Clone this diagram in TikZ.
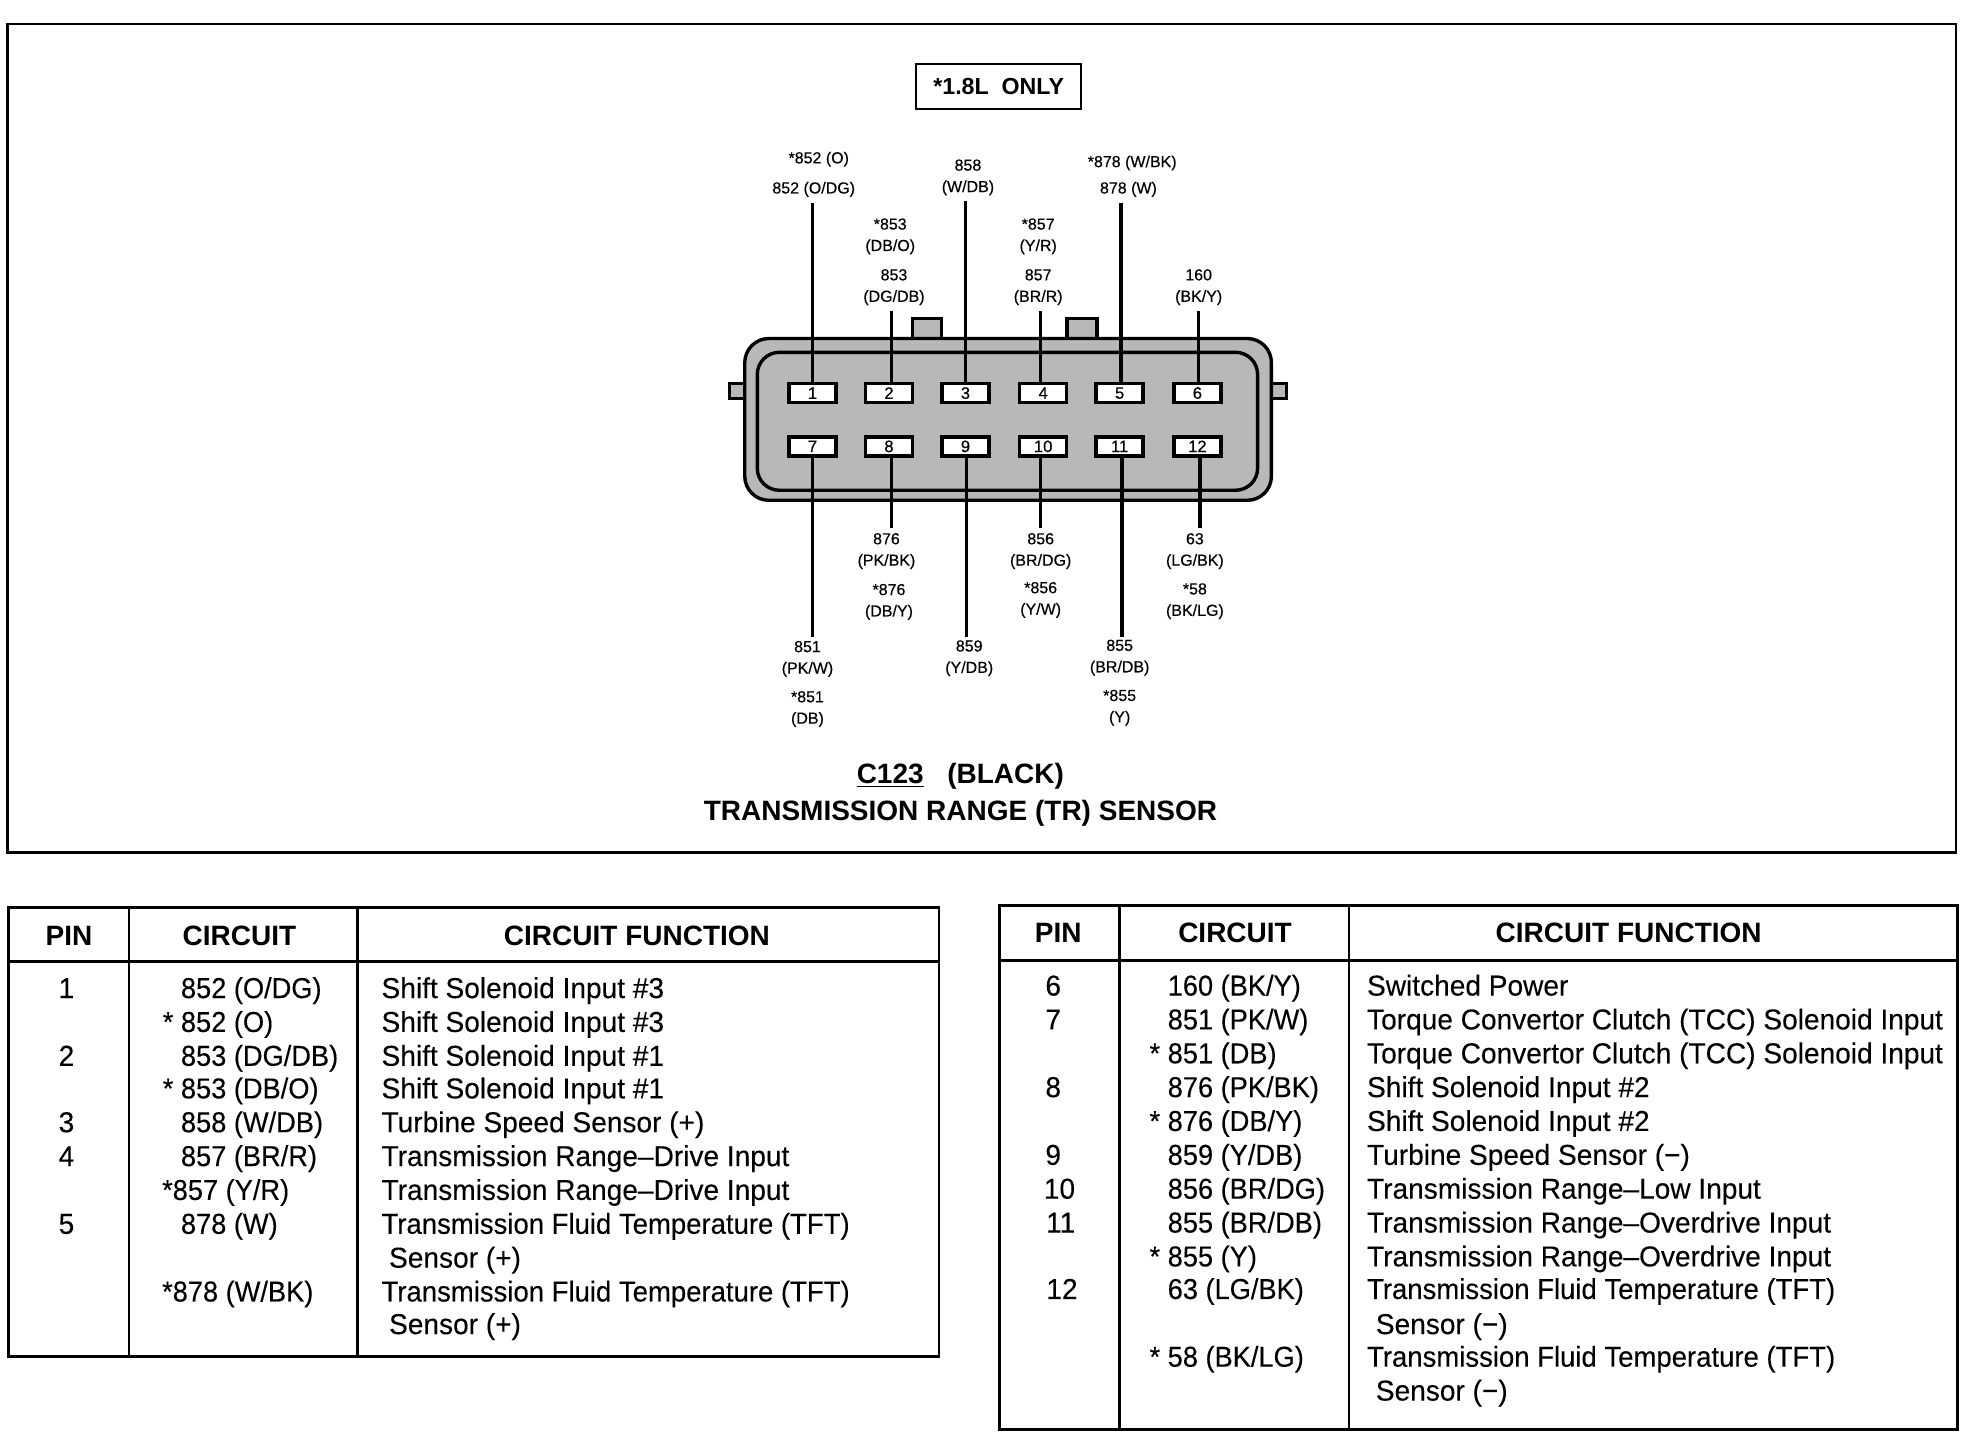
\documentclass[tikz,border=0pt]{standalone}
\usepackage{fontspec}
\setmainfont{Liberation Sans}
\newfontfamily\funcfont[FakeStretch=0.975,FakeBold=0.15]{Liberation Sans}
\newfontfamily\tftfont[FakeStretch=0.955,FakeBold=0.15]{Liberation Sans}
\newfontfamily\circfont[FakeStretch=0.945,FakeBold=0.15]{Liberation Sans}
\newfontfamily\smallfont[FakeBold=0.35]{Liberation Sans}
\usetikzlibrary{calc}

\tikzset{
  wire/.style={line width=1.7pt},
  frameline/.style={line width=1.3pt},
  bodyfill/.style={fill=black!28},
  pinbox/.style={draw,line width=1.8pt,fill=white,rectangle,inner sep=0pt,minimum width=23.5pt,minimum height=9.5pt,font=\smallfont\fontsize{8.3}{9}\selectfont},
  wirelabel/.style={inner sep=0pt,align=center,font=\smallfont\fontsize{8}{10.7}\selectfont},
  headtext/.style={inner sep=0pt,font=\fontsize{14}{16}\bfseries\selectfont},
  titletext/.style={inner sep=0pt,font=\fontsize{14}{16}\bfseries\selectfont},
  celltext/.style={inner sep=0pt,anchor=base west,font=\fontsize{14.4}{17}\selectfont},
  pintext/.style={inner sep=0pt,anchor=base,font=\fontsize{14.4}{17}\selectfont},
}
% one row of a table: name, y, pin, pin x, circuit x, circuit, function x, function
\newcommand{\tabrow}[8]{%
  \node[pintext] (p#1) at (#4,#2+7) {\funcfont #3};
  \node[celltext] (c#1) at (#5,#2+7) {\circfont #6};
  \node[celltext] (f#1) at (#7,#2+7) {\funcfont #8};
}

\begin{document}
\begin{tikzpicture}[x=0.6269pt,y=-0.6269pt]
  \useasboundingbox (0,0) rectangle (1568,1148.6);

  % outer frame and note
  \draw[frameline] (6,19) rectangle (1560,680);
  \node[draw,line width=1.2pt,minimum width=82.5pt,minimum height=22.5pt,inner sep=0pt,font=\fontsize{11.6}{13}\bfseries\selectfont] (note) at (796.5,69) {*1.8L\; ONLY};

  % connector body
  \draw[wire,bodyfill] (728,272) -- (728,254) -- (751,254) -- (751,272);
  \draw[wire,bodyfill] (851,272) -- (851,254) -- (875,254) -- (875,272);
  \draw[wire,bodyfill] (582,306) rectangle (596,318);
  \draw[wire,bodyfill] (1012,306) rectangle (1026,318);
  \draw[wire,bodyfill,rounded corners=12pt] (594,270) rectangle (1014,399);
  \draw[wire,rounded corners=11pt] (604,281) rectangle (1003,391);

  % pins
  \foreach \n/\x in {1/648,2/709,3/770,4/832,5/893,6/955}
    \node[pinbox] (pin\n) at (\x,313.5) {\n};
  \foreach \n/\x in {7/648,8/709,9/770,10/832,11/893,12/955}
    \node[pinbox] (pin\n) at (\x,356) {\n};

  % wires up
  \foreach \n/\x/\y in {1/648/162,2/711/248,3/770/160,4/830/248,5/894/162,6/956/248}{
    \coordinate (w\n) at (\x,\y);
    \draw[wire] (w\n) -- (w\n |- pin\n.north);
  }
  % wires down
  \foreach \n/\x/\y in {7/648/508,8/711/421,9/771/508,10/830/421,11/895/508,12/957/421}{
    \coordinate (w\n) at (\x,\y);
    \draw[wire] (w\n) -- (w\n |- pin\n.south);
  }

  % wire labels
  \node[wirelabel] (la) at (653,127) {*852 (O)};
  \node[wirelabel] (lb) at (649,151) {852 (O/DG)};
  \node[wirelabel] (lc) at (772,141.5) {858\\(W/DB)};
  \node[wirelabel] (ld) at (903,130) {*878 (W/BK)};
  \node[wirelabel] (le) at (900,151) {878 (W)};
  \node[wirelabel] (lf) at (710,188.5) {*853\\(DB/O)};
  \node[wirelabel] (lg) at (713,229) {853\\(DG/DB)};
  \node[wirelabel] (lh) at (828,188.5) {*857\\(Y/R)};
  \node[wirelabel] (li) at (828,229) {857\\(BR/R)};
  \node[wirelabel] (lj) at (956,229) {160\\(BK/Y)};
  \node[wirelabel] (lk) at (707,439.5) {876\\(PK/BK)};
  \node[wirelabel] (ll) at (709,480) {*876\\(DB/Y)};
  \node[wirelabel] (lm) at (830,439.5) {856\\(BR/DG)};
  \node[wirelabel] (ln) at (830,478.5) {*856\\(Y/W)};
  \node[wirelabel] (lo) at (953,439.5) {63\\(LG/BK)};
  \node[wirelabel] (lp) at (953,479.5) {*58\\(BK/LG)};
  \node[wirelabel] (lq) at (644,525.5) {851\\(PK/W)};
  \node[wirelabel] (lr) at (644,565.5) {*851\\(DB)};
  \node[wirelabel] (ls) at (773,525) {859\\(Y/DB)};
  \node[wirelabel] (lt) at (893,524.5) {855\\(BR/DB)};
  \node[wirelabel] (lu) at (893,564.5) {*855\\(Y)};

  % title
  \node[titletext] (tnum) at (710,619) {\underline{C123}};
  \node[titletext] (tcol) at (802,619) {(BLACK)};
  \node[titletext] (tname) at (766,649) {TRANSMISSION RANGE (TR) SENSOR};

  % left table
  \draw[frameline] (7,724) rectangle (749,1082);
  \draw[frameline] (7,767) -- (749,767);
  \draw[frameline] (103,724) -- (103,1082);
  \draw[frameline] (285,724) -- (285,1082);
  \node[headtext] (hla) at (55,746) {PIN};
  \node[headtext] (hlb) at (191,746) {CIRCUIT};
  \node[headtext] (hlc) at (508,746) {CIRCUIT FUNCTION};
  \tabrow{a}{789}{1}{53}{144}{852 (O/DG)}{304}{Shift Solenoid Input \#3}
  \tabrow{b}{816}{}{53}{144}{\llap{* }852 (O)}{304}{Shift Solenoid Input \#3}
  \tabrow{c}{843}{2}{53}{144}{853 (DG/DB)}{304}{Shift Solenoid Input \#1}
  \tabrow{d}{869}{}{53}{144}{\llap{* }853 (DB/O)}{304}{Shift Solenoid Input \#1}
  \tabrow{e}{896}{3}{53}{144}{858 (W/DB)}{304}{Turbine Speed Sensor (+)}
  \tabrow{f}{923}{4}{53}{144}{857 (BR/R)}{304}{Transmission Range–Drive Input}
  \tabrow{g}{950}{}{53}{129}{*857 (Y/R)}{304}{Transmission Range–Drive Input}
  \tabrow{h}{977}{5}{53}{144}{878 (W)}{304}{\tftfont Transmission Fluid Temperature (TFT)}
  \tabrow{i}{1004}{}{53}{144}{}{310}{Sensor (+)}
  \tabrow{j}{1031}{}{53}{129}{*878 (W/BK)}{304}{\tftfont Transmission Fluid Temperature (TFT)}
  \tabrow{k}{1057}{}{53}{144}{}{310}{Sensor (+)}

  % right table
  \draw[frameline] (797,722) rectangle (1561,1140);
  \draw[frameline] (797,766) -- (1561,766);
  \draw[frameline] (893,722) -- (893,1140);
  \draw[frameline] (1076,722) -- (1076,1140);
  \node[headtext] (hra) at (844,744) {PIN};
  \node[headtext] (hrb) at (985,744) {CIRCUIT};
  \node[headtext] (hrc) at (1299,744) {CIRCUIT FUNCTION};
  \tabrow{m}{787}{6}{840}{931}{160 (BK/Y)}{1090}{Switched Power}
  \tabrow{n}{814}{7}{840}{931}{851 (PK/W)}{1090}{Torque Convertor Clutch (TCC) Solenoid Input}
  \tabrow{o}{841}{}{840}{931}{\llap{* }851 (DB)}{1090}{Torque Convertor Clutch (TCC) Solenoid Input}
  \tabrow{q}{868}{8}{840}{931}{876 (PK/BK)}{1090}{Shift Solenoid Input \#2}
  \tabrow{r}{895}{}{840}{931}{\llap{* }876 (DB/Y)}{1090}{Shift Solenoid Input \#2}
  \tabrow{s}{922}{9}{840}{931}{859 (Y/DB)}{1090}{Turbine Speed Sensor (−)}
  \tabrow{t}{949}{10}{845}{931}{856 (BR/DG)}{1090}{Transmission Range–Low Input}
  \tabrow{u}{976}{11}{846}{931}{855 (BR/DB)}{1090}{Transmission Range–Overdrive Input}
  \tabrow{v}{1003}{}{846}{931}{\llap{* }855 (Y)}{1090}{Transmission Range–Overdrive Input}
  \tabrow{w}{1029}{12}{847}{931}{63 (LG/BK)}{1090}{\tftfont Transmission Fluid Temperature (TFT)}
  \tabrow{x}{1057}{}{847}{931}{}{1097}{Sensor (−)}
  \tabrow{y}{1083}{}{847}{931}{\llap{* }58 (BK/LG)}{1090}{\tftfont Transmission Fluid Temperature (TFT)}
  \tabrow{z}{1110}{}{847}{931}{}{1097}{Sensor (−)}
\end{tikzpicture}
\end{document}
